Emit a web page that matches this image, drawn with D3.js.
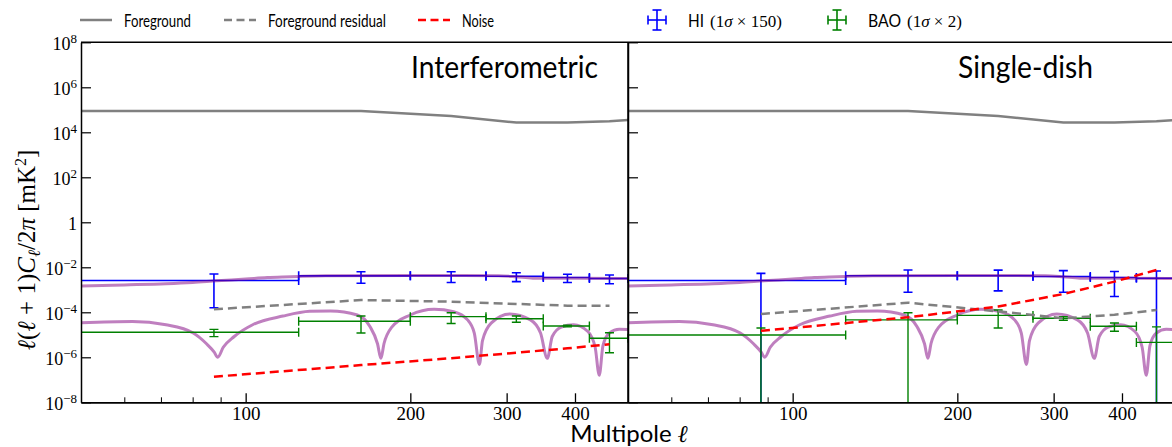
<!DOCTYPE html>
<html>
<head>
<meta charset="utf-8">
<script src="https://cdn.jsdelivr.net/npm/d3@7"></script>
<style>
  body { margin: 0; background: #fff; }
  svg { display: block; }
  .sans { font-family: 'Lato', 'Liberation Sans', sans-serif; }
  .serif { font-family: 'Liberation Serif', 'DejaVu Serif', serif; }
</style>
</head>
<body>
<div id="viz"></div>
<script>
const width = 1172;
const height = 447;
const panelWidth = 547;
const plotTop = 42.3;
const plotBottom = 402.3;

// multipole bins (edges + centres)
const binEdges = [50, 125, 200, 275, 350, 425, 500];
const binCenters = [87.5, 162.5, 237.5, 312.5, 387.5, 462.5];

// foreground (same in both panels)
const fgEll = [50, 87.5, 162.5, 237.5, 312.5, 387.5, 462.5, 500];
const fgPower = [8.85e4, 8.85e4, 8.85e4, 5.3e4, 2.7e4, 2.7e4, 3.1e4, 3.5e4];

// theory curves (purple)
const hiTheoryEll = [50, 60, 71.5, 80, 88.6, 100, 109.5, 117, 125, 140, 200, 250, 290, 312, 335, 400, 500];
const hiTheory = [1.48e-3, 1.65e-3, 1.85e-3, 2.1e-3, 2.5e-3, 3.0e-3, 3.5e-3, 3.75e-3, 3.95e-3, 4.2e-3, 4.3e-3, 4.3e-3, 4.2e-3, 3.8e-3, 3.3e-3, 3.25e-3, 3.15e-3];
const baoTheoryEll = [50, 62.1, 71.5, 80.2, 84.8, 87.6, 88.9, 91, 95.3, 103, 117, 131, 143, 160, 168.6, 174.2, 176.7, 179, 185, 200, 221, 240, 254.5, 261.8, 267.5, 271, 281, 304, 331.6, 346, 356, 363.5, 377.5, 397.6, 422.3, 435.4, 443, 450, 462.4, 482, 500];
const baoTheory = [3.4e-5, 3.9e-5, 2.8e-5, 1.2e-5, 4.0e-6, 1.7e-6, 1.0e-6, 2.8e-6, 8.4e-6, 2.8e-5, 6.8e-5, 1.1e-4, 1.15e-4, 7.6e-5, 2.4e-5, 4e-6, 9e-7, 4e-6, 2.2e-5, 7.6e-5, 1.36e-4, 1.06e-4, 4.6e-5, 1.2e-5, 4.8e-7, 5.5e-6, 3.3e-5, 8.4e-5, 4.6e-5, 1.2e-5, 9e-7, 8.4e-6, 2.2e-5, 2.8e-5, 1.4e-5, 2.8e-6, 1.6e-7, 3.3e-6, 1.2e-5, 1.75e-5, 1.7e-5];

// Interferometric panel
const intResidual = [1.36e-4, 3.5e-4, 2.96e-4, 2.35e-4, 1.98e-4, 1.98e-4];
const intNoise = [1.37e-7, 4.5e-7, 9.1e-7, 1.6e-6, 2.5e-6, 3.8e-6];
const intHI = [2.6e-3, 4.16e-3, 4.2e-3, 4.0e-3, 3.5e-3, 3.2e-3];
const intHIerr = [2.44e-3, 2.2e-3, 2.1e-3, 1.7e-3, 1.4e-3, 1.35e-3];   // 1 sigma x 150
const intBAO = [1.29e-5, 4.0e-5, 6.4e-5, 5.2e-5, 2.46e-5, 7.0e-6];
const intBAOerr = [4.6e-6, 2.8e-5, 3.2e-5, 1.6e-5, 2.0e-6, 5.4e-6];   // 1 sigma x 2

// Single-dish panel
const sdResidual = [8.4e-5, 2.67e-4, 1.1e-4, 5.4e-5, 7.8e-5, 1.26e-4];
const sdNoise = [1.5e-5, 6.0e-5, 1.8e-4, 6.5e-4, 2.3e-3, 7.6e-3];
const sdHI = [2.6e-3, 4.18e-3, 4.2e-3, 3.93e-3, 3.5e-3, 3.24e-3];
const sdHIerr = [2.77e-3, 3.4e-3, 3.3e-3, 3.15e-3, 3.0e-3, 3.6e-3];
const sdBAO = [9.8e-6, 4.6e-5, 7.3e-5, 5.4e-5, 2.39e-5, 4.6e-6];
const sdBAOerr = [1.02e-5, 5.0e-5, 5.3e-5, 1.0e-5, 9.5e-6, 1.8e-5];

const xTicks = [100, 200, 300, 400];
const xMinorTicks = [60, 70, 80, 90];
const yTicks = [1e8, 1e6, 1e4, 1e2, 1, 1e-2, 1e-4, 1e-6, 1e-8];

const panels = [
  { left: 81, title: 'Interferometric', titleX: 598, titleW: 187, residual: intResidual, noise: intNoise,
    hi: intHI, hiErr: intHIerr, bao: intBAO, baoErr: intBAOerr, labels: true },
  { left: 628, title: 'Single-dish', titleX: 1093, titleW: 135, residual: sdResidual, noise: sdNoise,
    hi: sdHI, hiErr: sdHIerr, bao: sdBAO, baoErr: sdBAOerr, labels: false },
];

const x = d3.scaleLog().domain([50, 500]).range([0, panelWidth]);
const y = d3.scaleLog().domain([1e-8, 1e8]).range([plotBottom, plotTop]);

const line = d3.line().x(d => x(d[0])).y(d => y(d[1]));
const smooth = d3.line().x(d => x(d[0])).y(d => y(d[1])).curve(d3.curveMonotoneX);

const svg = d3.select('#viz')
  .append('svg')
    .attr('width', width)
    .attr('height', height);

svg.append('defs').append('clipPath')
    .attr('id', 'plot-clip')
  .append('rect')
    .attr('x', 0).attr('y', plotTop)
    .attr('width', panelWidth).attr('height', plotBottom - plotTop);

const superscript = (t, exp) => {
  t.append('tspan').text('10');
  t.append('tspan')
    .attr('dy', -7)
    .attr('font-size', 13)
    .text(exp < 0 ? '\u2212' + (-exp) : exp);
};

const drawErrorbars = (g, vals, errs, color, width) => {
  const cap = 4.5;
  const pts = binCenters.map((c, i) => ({
    c, lo: binEdges[i], hi: binEdges[i + 1], v: vals[i], e: errs[i]
  }));
  const eb = g.append('g')
      .attr('stroke', color)
      .attr('stroke-width', width)
      .attr('fill', 'none')
    .selectAll('g')
    .data(pts)
    .join('g');
  // horizontal (bin width) bars + caps
  eb.append('line')
    .attr('x1', d => x(d.lo)).attr('x2', d => x(d.hi))
    .attr('y1', d => y(d.v)).attr('y2', d => y(d.v));
  eb.append('line')
    .attr('x1', d => x(d.lo)).attr('x2', d => x(d.lo))
    .attr('y1', d => y(d.v) - cap).attr('y2', d => y(d.v) + cap);
  eb.append('line')
    .attr('x1', d => x(d.hi)).attr('x2', d => x(d.hi))
    .attr('y1', d => y(d.v) - cap).attr('y2', d => y(d.v) + cap);
  // vertical error bars, clipped to the bottom when v - e <= 0
  eb.append('line')
    .attr('x1', d => x(d.c)).attr('x2', d => x(d.c))
    .attr('y1', d => y(d.v + d.e))
    .attr('y2', d => d.v - d.e > 0 ? y(d.v - d.e) : plotBottom + 5);
  eb.append('line')
    .attr('x1', d => x(d.c) - cap).attr('x2', d => x(d.c) + cap)
    .attr('y1', d => y(d.v + d.e)).attr('y2', d => y(d.v + d.e));
  eb.filter(d => d.v - d.e > 0)
    .append('line')
    .attr('x1', d => x(d.c) - cap).attr('x2', d => x(d.c) + cap)
    .attr('y1', d => y(d.v - d.e)).attr('y2', d => y(d.v - d.e));
};

panels.forEach(p => {
  const g = svg.append('g').attr('transform', `translate(${p.left},0)`);
  const plot = g.append('g').attr('clip-path', 'url(#plot-clip)');

  plot.append('path')
    .attr('d', line(d3.zip(fgEll, fgPower)))
    .attr('fill', 'none').attr('stroke', '#808080').attr('stroke-width', 2.5);

  drawErrorbars(plot, p.hi, p.hiErr, '#0000ff', 1.6);

  plot.append('path')
    .attr('d', smooth(d3.zip(hiTheoryEll, hiTheory)))
    .attr('fill', 'none').attr('stroke', '#800080').attr('stroke-opacity', 0.5).attr('stroke-width', 3);
  plot.append('path')
    .attr('d', smooth(d3.zip(baoTheoryEll, baoTheory)))
    .attr('fill', 'none').attr('stroke', '#800080').attr('stroke-opacity', 0.5).attr('stroke-width', 3)
    .attr('stroke-linejoin', 'round');

  drawErrorbars(plot, p.bao, p.baoErr, '#008000', 1.4);

  plot.append('path')
    .attr('d', line(d3.zip(binCenters, p.residual)))
    .attr('fill', 'none').attr('stroke', '#808080').attr('stroke-width', 2.5)
    .attr('stroke-dasharray', '9,5');
  plot.append('path')
    .attr('d', line(d3.zip(binCenters, p.noise)))
    .attr('fill', 'none').attr('stroke', '#ff0000').attr('stroke-width', 2.5)
    .attr('stroke-dasharray', '9,5');

  // axes (ticks point inwards)
  const axisBottom = d3.axisBottom(x)
    .tickValues(xTicks)
    .tickFormat(d3.format('d'))
    .tickSize(-9)
    .tickSizeOuter(0)
    .tickPadding(4);
  g.append('g')
    .attr('transform', `translate(0,${plotBottom})`)
    .attr('class', 'serif')
    .style('font-size', '19px')
    .call(axisBottom)
    .call(a => a.select('.domain').attr('stroke-width', 1.8))
    .call(a => a.selectAll('.tick line').attr('stroke-width', 1.3));
  g.append('g')
    .attr('transform', `translate(0,${plotBottom})`)
    .call(d3.axisBottom(x).tickValues(xMinorTicks).tickFormat('').tickSize(-5).tickSizeOuter(0))
    .call(a => a.select('.domain').remove())
    .call(a => a.selectAll('.tick line').attr('stroke-width', 1));

  const axisLeft = d3.axisLeft(y)
    .tickValues(yTicks)
    .tickSize(-10)
    .tickSizeOuter(0)
    .tickPadding(4);
  g.append('g')
    .attr('class', 'serif')
    .style('font-size', '18px')
    .call(axisLeft)
    .call(a => a.select('.domain').attr('stroke-width', 1.5))
    .call(a => a.selectAll('.tick line').attr('stroke-width', 1.2))
    .call(a => a.selectAll('.tick text').each(function(d) {
      const t = d3.select(this);
      if (!p.labels) { t.remove(); return; }
      t.text(null).attr('dy', '0.42em');
      const exp = Math.round(Math.log10(d));
      if (exp === 0) t.text('1');
      else superscript(t, exp);
    }));

  // top and right spines
  g.append('line')
    .attr('x1', 0).attr('x2', panelWidth).attr('y1', plotTop).attr('y2', plotTop)
    .attr('stroke', '#000').attr('stroke-width', 1.5);
  g.append('line')
    .attr('x1', panelWidth).attr('x2', panelWidth).attr('y1', plotTop).attr('y2', plotBottom)
    .attr('stroke', '#000').attr('stroke-width', 1.5);

  svg.append('text')
    .attr('class', 'sans')
    .attr('x', p.titleX).attr('y', 78)
    .attr('text-anchor', 'end')
    .attr('textLength', p.titleW)
    .attr('lengthAdjust', 'spacingAndGlyphs')
    .style('font-size', '31px')
    .text(p.title);
});

// axis labels
svg.append('text')
  .attr('class', 'sans')
  .attr('x', 629).attr('y', 442)
  .attr('text-anchor', 'middle')
  .style('font-size', '24px')
  .call(t => {
    t.append('tspan').text('Multipole ');
    t.append('tspan').attr('class', 'serif').style('font-style', 'italic').text('\u2113');
  });

const ylab = svg.append('text')
  .attr('class', 'serif')
  .attr('text-anchor', 'middle')
  .attr('transform', 'translate(35,250) rotate(-90)')
  .style('font-size', '25px');
ylab.append('tspan').style('font-style', 'italic').text('\u2113');
ylab.append('tspan').text('(');
ylab.append('tspan').style('font-style', 'italic').text('\u2113');
ylab.append('tspan').text(' + 1)');
ylab.append('tspan').style('font-style', 'italic').text('C');
ylab.append('tspan').style('font-style', 'italic').style('font-size', '17px').attr('dy', 5).text('\u2113');
ylab.append('tspan').attr('dy', -5).text('/2');
ylab.append('tspan').style('font-style', 'italic').text('\u03c0');
ylab.append('tspan').text(' [mK');
ylab.append('tspan').style('font-size', '16px').attr('dy', -9).text('2');
ylab.append('tspan').attr('dy', 9).text(']');

// legend
const legendY = 20;
const legend = svg.append('g');
const legendLines = [
  { x: 80, text: 'Foreground', w: 67, color: '#808080', dash: null },
  { x: 224, text: 'Foreground residual', w: 118, color: '#808080', dash: '8,4.5' },
  { x: 418, text: 'Noise', w: 32, color: '#ff0000', dash: '8,4.5' },
];
legendLines.forEach(l => {
  legend.append('line')
    .attr('x1', l.x).attr('x2', l.x + 32)
    .attr('y1', legendY).attr('y2', legendY)
    .attr('stroke', l.color).attr('stroke-width', 2.5)
    .attr('stroke-dasharray', l.dash);
  legend.append('text')
    .attr('class', 'sans')
    .attr('x', l.x + 44).attr('y', legendY + 7)
    .attr('textLength', l.w)
    .attr('lengthAdjust', 'spacingAndGlyphs')
    .style('font-size', '17px')
    .text(l.text);
});
const legendMarkers = [
  { cx: 657, color: '#0000ff', name: 'HI', nameW: 16, factor: '150' },
  { cx: 837, color: '#008000', name: 'BAO', nameW: 33, factor: '2' },
];
legendMarkers.forEach(m => {
  const mg = legend.append('g').attr('stroke', m.color).attr('stroke-width', 1.6);
  mg.append('line').attr('x1', m.cx - 9).attr('x2', m.cx + 9).attr('y1', legendY).attr('y2', legendY);
  mg.append('line').attr('x1', m.cx).attr('x2', m.cx).attr('y1', legendY - 10).attr('y2', legendY + 10);
  mg.append('line').attr('x1', m.cx - 9).attr('x2', m.cx - 9).attr('y1', legendY - 4.5).attr('y2', legendY + 4.5);
  mg.append('line').attr('x1', m.cx + 9).attr('x2', m.cx + 9).attr('y1', legendY - 4.5).attr('y2', legendY + 4.5);
  mg.append('line').attr('x1', m.cx - 4.5).attr('x2', m.cx + 4.5).attr('y1', legendY - 10).attr('y2', legendY - 10);
  mg.append('line').attr('x1', m.cx - 4.5).attr('x2', m.cx + 4.5).attr('y1', legendY + 10).attr('y2', legendY + 10);
  legend.append('text')
    .attr('class', 'sans')
    .attr('x', m.cx + 31).attr('y', legendY + 7)
    .attr('textLength', m.nameW)
    .attr('lengthAdjust', 'spacingAndGlyphs')
    .style('font-size', '17px')
    .text(m.name);
  const t = legend.append('text')
    .attr('class', 'serif')
    .attr('x', m.cx + 31 + m.nameW + 6).attr('y', legendY + 7)
    .style('font-size', '17px');
  t.append('tspan').text('(1');
  t.append('tspan').style('font-style', 'italic').text('\u03c3');
  t.append('tspan').text(' \u00d7 ' + m.factor + ')');
});
</script>
</body>
</html>
